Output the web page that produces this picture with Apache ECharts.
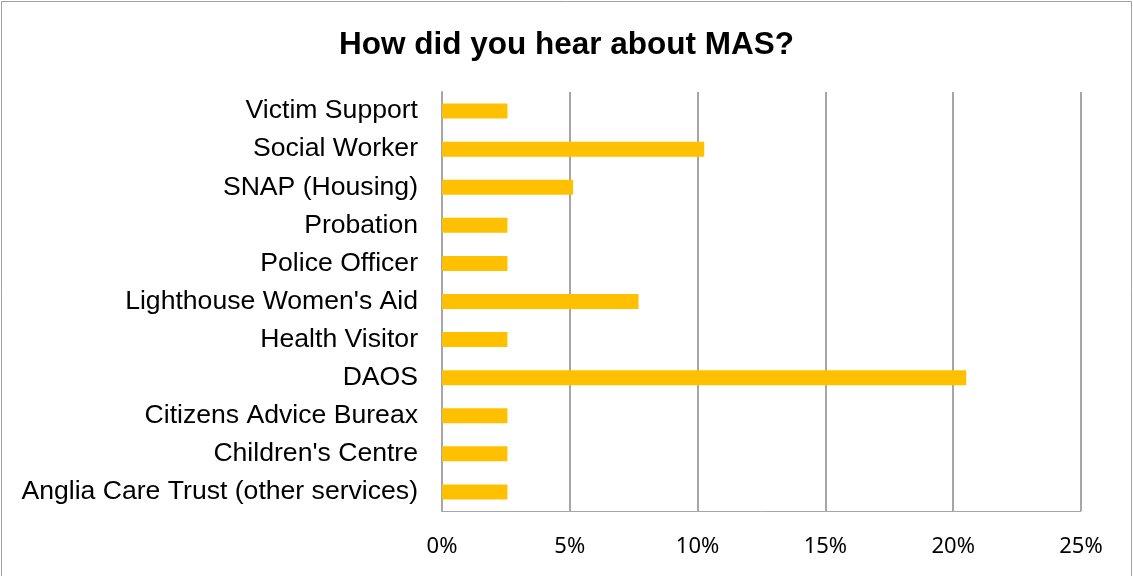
<!DOCTYPE html>
<html>
<head>
<meta charset="utf-8">
<script src="https://cdn.jsdelivr.net/npm/echarts@6/dist/echarts.min.js"></script>
<style>
html,body{margin:0;padding:0;background:#fff;}
#chart{width:1133px;height:576px;}
</style>
</head>
<body>
<div id="chart"></div>
<script>
const titleText = "How did you hear about MAS?";
const categories = [
  "Victim Support",
  "Social Worker",
  "SNAP (Housing)",
  "Probation",
  "Police Officer",
  "Lighthouse Women's Aid",
  "Health Visitor",
  "DAOS",
  "Citizens Advice Bureax",
  "Children's Centre",
  "Anglia Care Trust (other services)"
];
const values = [2.56, 10.26, 5.13, 2.56, 2.56, 7.69, 2.56, 20.51, 2.56, 2.56, 2.56];
const axisMin = 0, axisMax = 25, axisStep = 5;

const chart = echarts.init(document.getElementById('chart'), null, {renderer: 'canvas'});
chart.setOption({
  backgroundColor: '#ffffff',
  animation: false,
  title: {
    text: titleText,
    left: 'center',
    top: 24,
    textStyle: {fontFamily: 'Liberation Sans, Arial, sans-serif', fontSize: 31.5, fontWeight: 'bold', color: '#000'}
  },
  graphic: [{
    type: 'rect',
    shape: {x: 1.5, y: 1.5, width: 1130, height: 580},
    style: {fill: 'none', stroke: '#a0a0a0', lineWidth: 1},
    silent: true
  }],
  grid: {left: 442, right: 52, top: 92, bottom: 65, containLabel: false},
  xAxis: {
    type: 'value',
    min: axisMin, max: axisMax, interval: axisStep,
    axisLine: {show: true, lineStyle: {color: '#a6a6a6', width: 1}},
    axisTick: {show: false},
    splitLine: {show: true, lineStyle: {color: '#a6a6a6', width: 2}},
    axisLabel: {
      formatter: '{value}%',
      margin: 25,
      fontFamily: 'Noto Sans, Open Sans, sans-serif',
      fontSize: 22,
      color: '#000'
    }
  },
  yAxis: {
    type: 'category',
    data: categories,
    inverse: true,
    axisLine: {show: true, lineStyle: {color: '#a6a6a6', width: 2}},
    axisTick: {show: false},
    axisLabel: {
      margin: 24,
      fontFamily: 'Liberation Sans, Arial, sans-serif',
      fontSize: 26.6,
      color: '#000'
    }
  },
  series: [{
    type: 'bar',
    data: values,
    barWidth: 15,
    itemStyle: {color: '#FFC000'}
  }]
});
</script>
</body>
</html>
